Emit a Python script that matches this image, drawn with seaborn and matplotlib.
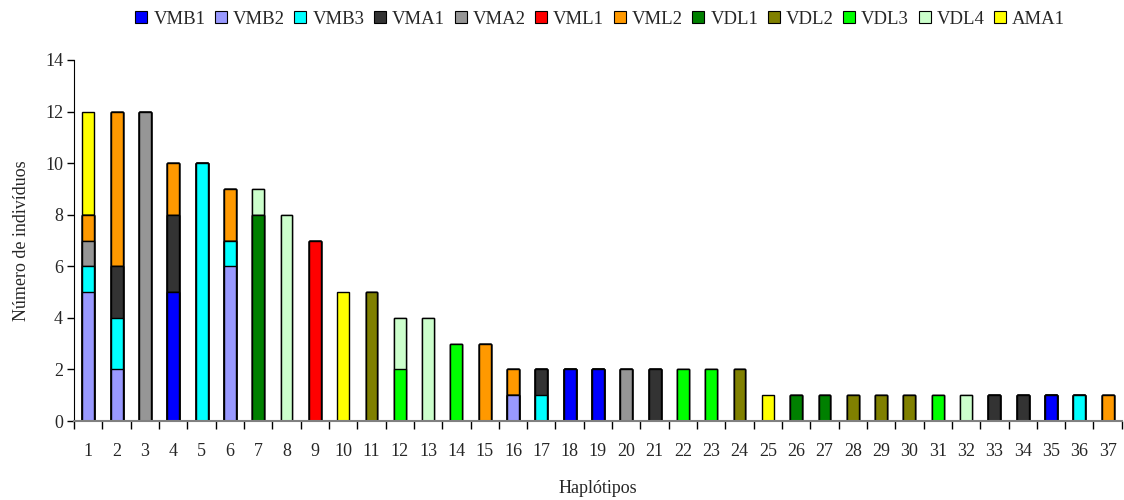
import numpy as np
import pandas as pd
import matplotlib
matplotlib.use('Agg')
import matplotlib.pyplot as plt
import seaborn as sns
from matplotlib.patches import Patch

# --- data ---
haplotypes = [str(i) for i in range(1, 38)]
groups = ['VMB1', 'VMB2', 'VMB3', 'VMA1', 'VMA2', 'VML1', 'VML2',
          'VDL1', 'VDL2', 'VDL3', 'VDL4', 'AMA1']
colors = ['#0000FF', '#9999FF', '#00FFFF', '#333333', '#969696', '#FF0000',
          '#FF9900', '#008000', '#808000', '#00FF00', '#CCFFCC', '#FFFF00']

# counts per haplotype (1..37) for each group
VMB1 = [0, 0, 0, 5, 0, 0, 0, 0, 0, 0, 0, 0, 0, 0, 0, 0, 0, 2, 2, 0, 0, 0, 0, 0, 0, 0, 0, 0, 0, 0, 0, 0, 0, 0, 1, 0, 0]
VMB2 = [5, 2, 0, 0, 0, 6, 0, 0, 0, 0, 0, 0, 0, 0, 0, 1, 0, 0, 0, 0, 0, 0, 0, 0, 0, 0, 0, 0, 0, 0, 0, 0, 0, 0, 0, 0, 0]
VMB3 = [1, 2, 0, 0, 10, 1, 0, 0, 0, 0, 0, 0, 0, 0, 0, 0, 1, 0, 0, 0, 0, 0, 0, 0, 0, 0, 0, 0, 0, 0, 0, 0, 0, 0, 0, 1, 0]
VMA1 = [0, 2, 0, 3, 0, 0, 0, 0, 0, 0, 0, 0, 0, 0, 0, 0, 1, 0, 0, 0, 2, 0, 0, 0, 0, 0, 0, 0, 0, 0, 0, 0, 1, 1, 0, 0, 0]
VMA2 = [1, 0, 12, 0, 0, 0, 0, 0, 0, 0, 0, 0, 0, 0, 0, 0, 0, 0, 0, 2, 0, 0, 0, 0, 0, 0, 0, 0, 0, 0, 0, 0, 0, 0, 0, 0, 0]
VML1 = [0, 0, 0, 0, 0, 0, 0, 0, 7, 0, 0, 0, 0, 0, 0, 0, 0, 0, 0, 0, 0, 0, 0, 0, 0, 0, 0, 0, 0, 0, 0, 0, 0, 0, 0, 0, 0]
VML2 = [1, 6, 0, 2, 0, 2, 0, 0, 0, 0, 0, 0, 0, 0, 3, 1, 0, 0, 0, 0, 0, 0, 0, 0, 0, 0, 0, 0, 0, 0, 0, 0, 0, 0, 0, 0, 1]
VDL1 = [0, 0, 0, 0, 0, 0, 8, 0, 0, 0, 0, 0, 0, 0, 0, 0, 0, 0, 0, 0, 0, 0, 0, 0, 0, 1, 1, 0, 0, 0, 0, 0, 0, 0, 0, 0, 0]
VDL2 = [0, 0, 0, 0, 0, 0, 0, 0, 0, 0, 5, 0, 0, 0, 0, 0, 0, 0, 0, 0, 0, 0, 0, 2, 0, 0, 0, 1, 1, 1, 0, 0, 0, 0, 0, 0, 0]
VDL3 = [0, 0, 0, 0, 0, 0, 0, 0, 0, 0, 0, 2, 0, 3, 0, 0, 0, 0, 0, 0, 0, 2, 2, 0, 0, 0, 0, 0, 0, 0, 1, 0, 0, 0, 0, 0, 0]
VDL4 = [0, 0, 0, 0, 0, 0, 1, 8, 0, 0, 0, 2, 4, 0, 0, 0, 0, 0, 0, 0, 0, 0, 0, 0, 0, 0, 0, 0, 0, 0, 0, 1, 0, 0, 0, 0, 0]
AMA1 = [4, 0, 0, 0, 0, 0, 0, 0, 0, 5, 0, 0, 0, 0, 0, 0, 0, 0, 0, 0, 0, 0, 0, 0, 1, 0, 0, 0, 0, 0, 0, 0, 0, 0, 0, 0, 0]

counts = pd.DataFrame({
    'VMB1': VMB1, 'VMB2': VMB2, 'VMB3': VMB3, 'VMA1': VMA1, 'VMA2': VMA2,
    'VML1': VML1, 'VML2': VML2, 'VDL1': VDL1, 'VDL2': VDL2, 'VDL3': VDL3,
    'VDL4': VDL4, 'AMA1': AMA1,
}, index=haplotypes)

# cumulative stack heights (bottom group first)
cum = counts[groups].cumsum(axis=1)

sns.set_style('white')
plt.rcParams['font.family'] = ['Liberation Serif', 'DejaVu Serif']

fig = plt.figure(figsize=(11.24, 5.0), dpi=100)
ax = fig.add_axes([0.066, 0.158, 0.932, 0.722])

# draw from the top group down so lower segments overlay the taller bars
for g, c in zip(groups[::-1], colors[::-1]):
    h = cum[g].where(cum[g] > 0)
    df = pd.DataFrame({'hap': haplotypes, 'h': h.values})
    sns.barplot(data=df, x='hap', y='h', order=haplotypes, color=c,
                width=0.42, edgecolor='black', linewidth=1.0,
                saturation=1, ax=ax, errorbar=None)

ax.set_xlim(-0.5, 36.5)
ax.set_ylim(0, 14)
ax.set_yticks(np.arange(0, 15, 2))

for s in ['top', 'right']:
    ax.spines[s].set_visible(False)
ax.spines['left'].set_color('black')
ax.spines['bottom'].set_color('#808080')
ax.spines['bottom'].set_linewidth(1.5)

ax.tick_params(axis='y', direction='out', length=5, width=1, color='black',
               labelsize=13, pad=3, left=True)
ax.tick_params(axis='x', which='major', length=0, labelsize=13, pad=15.5)
ax.set_xticks(np.arange(-0.5, 37, 1), minor=True)
ax.tick_params(axis='x', which='minor', direction='out', length=6, width=1,
               color='black', bottom=True)

ax.set_xlabel('Haplótipos', fontsize=13, labelpad=15)
ax.set_ylabel('Número de indivíduos', fontsize=13, labelpad=11)

handles = [Patch(facecolor=c, edgecolor='black', linewidth=0.8, label=g)
           for g, c in zip(groups, colors)]
fig.legend(handles=handles, loc='center', bbox_to_anchor=(0.534, 0.962),
           ncol=12, frameon=False, fontsize=13.5, handlelength=0.64,
           handleheight=0.64, handletextpad=0.32, columnspacing=0.51)

fig.savefig('out.png', dpi=100)
